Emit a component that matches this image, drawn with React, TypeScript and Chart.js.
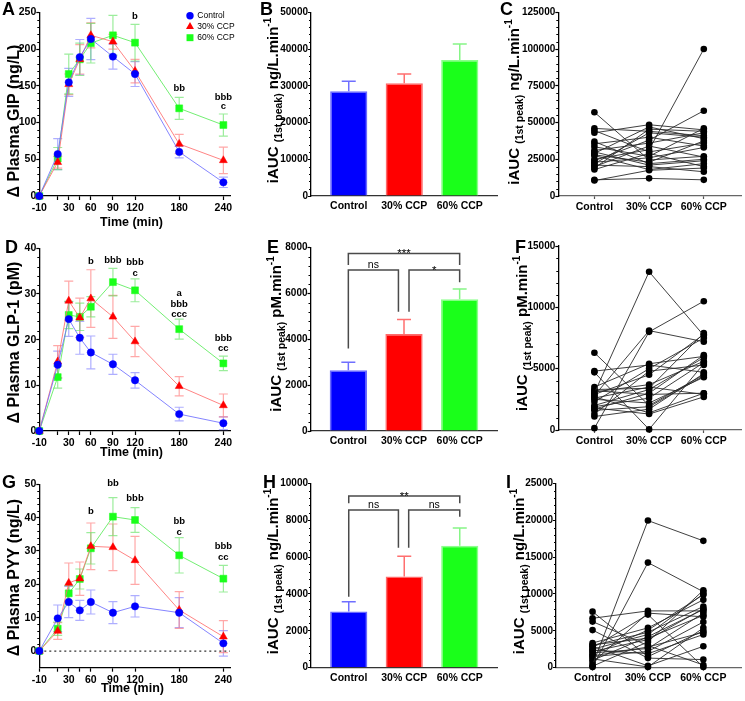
import React, { useEffect, useRef } from "react";
import { Chart, registerables } from "chart.js";

Chart.register(...registerables);

const FONT = "'Liberation Sans', Arial, sans-serif";
Chart.defaults.font.family = FONT;

// ---------------- shared categories / ticks ----------------
const timePoints = [-10, 15, 30, 45, 60, 90, 120, 180, 240];
const timeTickValues = [-10, 15, 30, 45, 60, 90, 120, 180, 240];
const timeTickLabels = ["-10", "", "30", "", "60", "90", "120", "180", "240"];
const groups = ["Control", "30% CCP", "60% CCP"];
const groupPositions = [0, 1, 2];

// ---------------- A: GIP time course ----------------
const gipControl = [0, 57, 154.7, 189, 213.7, 189.7, 166, 60, 18.6];
const gip30 = [0, 46, 152, 186, 218.7, 210, 170, 70.8, 48.5];
const gip60 = [0, 51, 166, 186, 208, 218.7, 208.7, 119.3, 96.6];
const gipControlSem = [0, 21, 19, 24, 28, 17, 17, 8, 7];
const gip30Sem = [0, 8, 14, 20, 17, 10, 16, 13, 18];
const gip60Sem = [0, 15, 27, 22, 27, 27, 25, 15, 15];
const gipYTicks = [0, 50, 100, 150, 200, 250];
const gipNotes = [
  { t: 120, v: 245, s: "b" },
  { t: 180, v: 146, s: "bb" },
  { t: 240, v: 134, s: "bbb" },
  { t: 240, v: 121.5, s: "c" },
];

// ---------------- B: GIP iAUC ----------------
const gipAuc = [28500, 30700, 37000];
const gipAucSem = [2700, 2500, 4400];
const gipAucYTicks = [0, 10000, 20000, 30000, 40000, 50000];

// ---------------- C: GIP individual iAUC ----------------
const gipIndControl = [57000, 46000, 44500, 43000, 37000, 35500, 33500, 31000, 30000, 29000, 27500, 25000, 24000, 23000, 22000, 21000, 20000, 19000, 18000, 11000, 10500, 28000];
const gipInd30 = [24500, 44000, 30000, 48500, 22000, 40000, 27000, 36000, 21000, 47000, 18000, 31500, 38000, 26000, 43000, 20000, 34000, 45500, 29000, 12000, 17500, 23000];
const gipInd60 = [27000, 41000, 36000, 45000, 25000, 34000, 46000, 43000, 24000, 39000, 22000, 100000, 58000, 33000, 40000, 16500, 26500, 44000, 20000, 11000, 19000, 37500];
const gipIndYTicks = [0, 25000, 50000, 75000, 100000, 125000];

// ---------------- D: GLP-1 time course ----------------
const glpControl = [0, 14.5, 24.5, 20.4, 17.2, 14.6, 11.1, 3.7, 1.7];
const glp30 = [0, 15.2, 28.5, 24.8, 29.0, 25.0, 19.6, 9.8, 5.6];
const glp60 = [0, 11.8, 25.4, 25.0, 27.2, 32.6, 30.8, 22.3, 14.8];
const glpControlSem = [0, 3.0, 3.8, 3.6, 3.6, 2.2, 1.7, 1.5, 1.4];
const glp30Sem = [0, 3.5, 4.3, 4.3, 6.3, 4.7, 3.3, 2.1, 2.5];
const glp60Sem = [0, 2.4, 3.0, 3.0, 2.2, 3.0, 2.5, 2.2, 1.6];
const glpYTicks = [0, 10, 20, 30, 40];
const glpNotes = [
  { t: 60, v: 37.2, s: "b" },
  { t: 90, v: 37.3, s: "bbb" },
  { t: 120, v: 36.9, s: "bbb" },
  { t: 120, v: 34.6, s: "c" },
  { t: 180, v: 30.1, s: "a" },
  { t: 180, v: 27.8, s: "bbb" },
  { t: 180, v: 25.5, s: "ccc" },
  { t: 240, v: 20.2, s: "bbb" },
  { t: 240, v: 18.0, s: "cc" },
];

// ---------------- E: GLP-1 iAUC ----------------
const glpAuc = [2650, 4230, 5750];
const glpAucSem = [350, 640, 450];
const glpAucYTicks = [0, 2000, 4000, 6000, 8000];
const glpBrackets = [
  { x1: 0, x2: 2, y: 7750, y1: 7240, y2: 7240, label: "***" },
  { x1: 0, x2: 0.9, y: 7025, y1: 3600, y2: 5200, label: "ns" },
  { x1: 1.09, x2: 2, y: 7025, y1: 5200, y2: 6490, label: "*" },
];

// ---------------- F: GLP-1 individual iAUC ----------------
const glpIndControl = [3000, 150, 2800, 6300, 4700, 4800, 3500, 3300, 3100, 2900, 2700, 2600, 2500, 2300, 2000, 1800, 1700, 1600, 1300, 1100, 3200, 1900];
const glpInd30 = [12900, 8000, 8100, 2000, 50, 5300, 5400, 3400, 3700, 4500, 1400, 3500, 2200, 5000, 3300, 1300, 3000, 1900, 4800, 1700, 2900, 2600];
const glpInd60 = [7700, 10500, 7200, 4500, 5400, 4700, 6000, 7900, 5600, 7800, 3000, 2900, 4300, 7500, 5900, 2700, 6100, 4400, 5300, 4600, 3000, 5500];
const glpIndYTicks = [0, 5000, 10000, 15000];

// ---------------- G: PYY time course ----------------
const pyyControl = [0, 9.8, 14.7, 12.2, 14.7, 11.5, 13.4, 11.5, 2.3];
const pyy30 = [0, 6.0, 20.4, 21.7, 31.4, 31.1, 27.2, 12.3, 4.3];
const pyy60 = [0, 6.7, 17.3, 21.6, 30.8, 40.3, 39.3, 28.7, 21.7];
const pyyControlSem = [0, 4, 4.7, 3, 3.6, 3.3, 3.2, 4.5, 3.8];
const pyy30Sem = [0, 2.5, 6, 5, 7, 7, 7.2, 5.5, 4.8];
const pyy60Sem = [0, 2, 2.3, 3, 4.7, 5.7, 3.7, 5.3, 4];
const pyyYTicks = [0, 10, 20, 30, 40, 50];
const pyyNotes = [
  { t: 60, v: 41.8, s: "b" },
  { t: 90, v: 50.3, s: "bb" },
  { t: 120, v: 45.8, s: "bbb" },
  { t: 180, v: 38.8, s: "bb" },
  { t: 180, v: 35.6, s: "c" },
  { t: 240, v: 31.4, s: "bbb" },
  { t: 240, v: 28.1, s: "cc" },
];

// ---------------- H: PYY iAUC ----------------
const pyyAuc = [3050, 4950, 6620];
const pyyAucSem = [530, 1100, 950];
const pyyAucYTicks = [0, 2000, 4000, 6000, 8000, 10000];
const pyyBrackets = [
  { x1: 0, x2: 2, y: 9313, y1: 8915, y2: 8915, label: "**" },
  { x1: 0, x2: 0.895, y: 8553, y1: 3850, y2: 6510, label: "ns" },
  { x1: 1.08, x2: 2, y: 8553, y1: 6510, y2: 8190, label: "ns" },
];

// ---------------- I: PYY individual iAUC ----------------
const pyyIndControl = [370, 100, 7600, 6700, 6250, 5100, 3350, 3000, 2700, 2500, 2200, 2000, 1800, 1500, 1000, 200, 2900, 2400, 1200, 700, 3100, 1600];
const pyyInd30 = [19950, 14250, 1500, 7700, 3000, 1300, 5400, 4800, 7200, 4500, 3800, 2600, 5100, 2200, 4200, 3500, 250, 1900, 100, 7400, 4000, 2800];
const pyyInd60 = [17200, 10300, 5000, 7700, 370, 1100, 9200, 8300, 100, 10000, 8000, 7400, 9900, 6200, 7900, 10500, 2900, 4500, 5400, 6900, 7100, 4800];
const pyyIndYTicks = [0, 5000, 10000, 15000, 20000, 25000];

// ---------------- styles ----------------
const pointColors = ["#0000ff", "#ff0000", "#1aff1a"];
const lineColors = ["rgba(110,110,255,0.85)", "rgba(255,110,110,0.85)", "rgba(90,235,90,0.85)"];
const errColors = ["rgba(120,120,255,0.6)", "rgba(255,110,110,0.6)", "rgba(90,225,90,0.6)"];
const pointShapes = ["circle", "triangle", "rect"];
const pointSizes = [3.7, 4.6, 4.9];
const barFill = ["#0000ff", "#ff0000", "#1aff1a"];
const barEdge = ["#6a6aff", "#ff6a6a", "#8cff8c"];
const barErr = ["#6f6fff", "#ff6f6f", "#86f586"];

// ---------------- layout ----------------
const COL = [{ cx: 0, cw: 250 }, { cx: 250, cw: 250 }, { cx: 500, cw: 245 }];
const ROW = [{ cy: 0, ch: 233 }, { cy: 233, ch: 235 }, { cy: 468, ch: 233 }];
function frame(c: number, r: number, L: number, R: number, T: number, B: number) {
  return { cx: COL[c].cx, cw: COL[c].cw, cy: ROW[r].cy, ch: ROW[r].ch, L, R, T, B };
}
const FR: any = {
  A: frame(0, 0, 39.3, 230, 12.3, 196),
  B: frame(1, 0, 311, 497.5, 12.3, 196),
  C: frame(2, 0, 558.3, 743, 12.3, 196),
  D: frame(0, 1, 39.3, 230, 248.3, 431),
  E: frame(1, 1, 310.5, 497.5, 247.7, 431),
  F: frame(2, 1, 558.3, 743, 246, 430),
  G: frame(0, 2, 39.3, 230, 484.3, 667.7),
  H: frame(1, 2, 311, 497.5, 483.3, 667.7),
  I: frame(2, 2, 556, 743, 483.3, 667.7),
};

type Part = { text: string; size: number; dy: number };
const plainTitle = (t: string): Part[] => [{ text: t, size: 16, dy: 5.8 }];
const aucTitle = (unit: string): Part[] => [
  { text: "iAUC ", size: 15, dy: 5.4 },
  { text: "(1st peak)", size: 10.5, dy: 9.2 },
  { text: " " + unit, size: 15, dy: 5.4 },
  { text: "-1", size: 10, dy: -1.6 },
];

// ---------------- drawing helpers ----------------
function drawShape(ctx: any, shape: string, x: number, y: number, r: number, color: string) {
  ctx.fillStyle = color;
  ctx.beginPath();
  if (shape === "circle") ctx.arc(x, y, r, 0, Math.PI * 2);
  else if (shape === "triangle") {
    let a = 0;
    ctx.moveTo(x + Math.sin(a) * r, y - Math.cos(a) * r);
    a += (2 * Math.PI) / 3;
    ctx.lineTo(x + Math.sin(a) * r, y - Math.cos(a) * r);
    a += (2 * Math.PI) / 3;
    ctx.lineTo(x + Math.sin(a) * r, y - Math.cos(a) * r);
    ctx.closePath();
  } else {
    const s = r * Math.SQRT1_2;
    ctx.rect(x - s, y - s, 2 * s, 2 * s);
  }
  ctx.fill();
}

function drawRotated(ctx: any, cx: number, cy: number, parts: Part[]) {
  ctx.save();
  ctx.translate(cx, cy);
  ctx.rotate(-Math.PI / 2);
  ctx.fillStyle = "#000";
  ctx.textBaseline = "alphabetic";
  ctx.textAlign = "left";
  let total = 0;
  const widths = parts.map((p) => {
    ctx.font = `bold ${p.size}px ${FONT}`;
    const w = ctx.measureText(p.text).width;
    total += w;
    return w;
  });
  let x = -total / 2;
  parts.forEach((p, i) => {
    ctx.font = `bold ${p.size}px ${FONT}`;
    ctx.fillText(p.text, x, p.dy);
    x += widths[i];
  });
  ctx.restore();
}

function decorPlugin(spec: any) {
  const f = spec.f;
  return {
    id: "decor",
    beforeDatasetsDraw(chart: any) {
      const ctx = chart.ctx;
      const xs = chart.scales.x;
      const ys = chart.scales.y;
      if (spec.zeroLine) {
        ctx.save();
        ctx.strokeStyle = "#333";
        ctx.lineWidth = 1.2;
        ctx.setLineDash([2, 3]);
        const y0 = ys.getPixelForValue(0);
        ctx.beginPath();
        ctx.moveTo(chart.chartArea.left, y0);
        ctx.lineTo(chart.chartArea.right, y0);
        ctx.stroke();
        ctx.restore();
      }
      if (spec.lineErr) {
        ctx.save();
        ctx.lineWidth = 1.2;
        spec.lineErr.values.forEach((vals: number[], di: number) => {
          ctx.strokeStyle = errColors[di];
          spec.lineErr.sems[di].forEach((e: number, i: number) => {
            if (!e) return;
            const x = xs.getPixelForValue(timePoints[i]);
            const y1 = ys.getPixelForValue(vals[i] + e);
            const y2 = ys.getPixelForValue(vals[i] - e);
            ctx.beginPath();
            ctx.moveTo(x, y1);
            ctx.lineTo(x, y2);
            ctx.moveTo(x - 4.5, y1);
            ctx.lineTo(x + 4.5, y1);
            ctx.moveTo(x - 4.5, y2);
            ctx.lineTo(x + 4.5, y2);
            ctx.stroke();
          });
        });
        ctx.restore();
      }
    },
    afterDatasetsDraw(chart: any) {
      const ctx = chart.ctx;
      const xs = chart.scales.x;
      const ys = chart.scales.y;
      if (spec.barErr) {
        ctx.save();
        ctx.lineWidth = 1.5;
        spec.barErr.values.forEach((v: number, i: number) => {
          const x = xs.getPixelForValue(groupPositions[i]);
          const y1 = ys.getPixelForValue(v);
          const y2 = ys.getPixelForValue(v + spec.barErr.sems[i]);
          ctx.strokeStyle = barErr[i];
          ctx.beginPath();
          ctx.moveTo(x, y1);
          ctx.lineTo(x, y2);
          ctx.moveTo(x - 7, y2);
          ctx.lineTo(x + 7, y2);
          ctx.stroke();
        });
        ctx.restore();
      }
    },
    afterDraw(chart: any) {
      const ctx = chart.ctx;
      const xs = chart.scales.x;
      const ys = chart.scales.y;
      if (spec.minor) {
        ctx.save();
        ctx.strokeStyle = "#000";
        ctx.lineWidth = 1;
        const m = spec.minor;
        for (let v = m.from; v <= m.to + 1e-9; v += m.step) {
          const r = v / m.major;
          if (Math.abs(r - Math.round(r)) < 1e-6) continue;
          const y = Math.round(ys.getPixelForValue(v)) + 0.5;
          ctx.beginPath();
          ctx.moveTo(ys.right - 2, y);
          ctx.lineTo(ys.right, y);
          ctx.stroke();
        }
        ctx.restore();
      }
      if (spec.yTitle) {
        drawRotated(ctx, spec.yTitle.x - f.cx, spec.yTitle.y - f.cy, spec.yTitle.parts);
      }
      if (spec.xTitle) {
        ctx.save();
        ctx.fillStyle = "#000";
        ctx.font = `bold 12.5px ${FONT}`;
        ctx.textAlign = "center";
        ctx.textBaseline = "middle";
        ctx.fillText(spec.xTitle.text, spec.xTitle.x - f.cx, spec.xTitle.y - f.cy);
        ctx.restore();
      }
      if (spec.notes) {
        ctx.save();
        ctx.fillStyle = "#000";
        ctx.font = `bold 9.5px ${FONT}`;
        ctx.textAlign = "center";
        ctx.textBaseline = "middle";
        spec.notes.forEach((n: any) => {
          ctx.fillText(n.s, xs.getPixelForValue(n.t), ys.getPixelForValue(n.v));
        });
        ctx.restore();
      }
      if (spec.legend) {
        ctx.save();
        const lg = spec.legend;
        groups.forEach((g, i) => {
          const y = lg.y + i * lg.dy - f.cy;
          drawShape(ctx, pointShapes[i], lg.x - f.cx, y, pointSizes[i], pointColors[i]);
          ctx.fillStyle = "#000";
          ctx.font = `8.5px ${FONT}`;
          ctx.textAlign = "left";
          ctx.textBaseline = "middle";
          ctx.fillText(g, lg.tx - f.cx, y);
        });
        ctx.restore();
      }
      if (spec.brackets) {
        ctx.save();
        ctx.strokeStyle = "#4a4a4a";
        ctx.lineWidth = 1.5;
        spec.brackets.forEach((b: any) => {
          const x1 = xs.getPixelForValue(b.x1);
          const x2 = xs.getPixelForValue(b.x2);
          const y = ys.getPixelForValue(b.y);
          ctx.beginPath();
          ctx.moveTo(x1, ys.getPixelForValue(b.y1));
          ctx.lineTo(x1, y);
          ctx.lineTo(x2, y);
          ctx.lineTo(x2, ys.getPixelForValue(b.y2));
          ctx.stroke();
          ctx.fillStyle = "#000";
          ctx.textAlign = "center";
          ctx.textBaseline = "alphabetic";
          const star = b.label.indexOf("*") >= 0;
          ctx.font = star ? `11.5px ${FONT}` : `10.5px ${FONT}`;
          ctx.fillText(b.label, (x1 + x2) / 2, star ? y + 4 : y - 2);
        });
        ctx.restore();
      }
    },
  };
}

// ---------------- axis builders ----------------
function xAxis(f: any, min: number, max: number, vals: number[], labels: string[], tl: number, pad: number, tickColor: string, borderColor: string) {
  const h = f.cy + f.ch - f.B;
  return {
    type: "linear",
    min,
    max,
    offset: false,
    afterBuildTicks: (s: any) => {
      s.ticks = vals.map((v) => ({ value: v }));
    },
    afterFit: (s: any) => {
      s.height = h;
      s.paddingLeft = 0;
      s.paddingRight = 0;
    },
    ticks: {
      autoSkip: false,
      maxRotation: 0,
      minRotation: 0,
      padding: pad,
      color: "#000",
      font: { size: 10.5, weight: "bold" },
      callback: (_v: any, i: number) => labels[i],
    },
    grid: { display: true, offset: false, drawOnChartArea: false, drawTicks: true, tickLength: tl, tickColor, tickWidth: 1.2 },
    border: { display: true, color: borderColor, width: 1.3 },
  };
}

function yAxis(f: any, min: number, max: number, vals: number[], size: number) {
  const w = f.L - f.cx;
  return {
    type: "linear",
    min,
    max,
    afterBuildTicks: (s: any) => {
      s.ticks = vals.map((v) => ({ value: v }));
    },
    afterFit: (s: any) => {
      s.width = w;
      s.paddingTop = 0;
      s.paddingBottom = 0;
    },
    ticks: {
      autoSkip: false,
      padding: 0,
      color: "#000",
      font: { size, weight: "bold" },
      callback: (v: any) => String(v),
    },
    grid: { display: true, drawOnChartArea: false, drawTicks: true, tickLength: 3, tickColor: "#000", tickWidth: 1.2 },
    border: { display: true, color: "#000", width: 1.3 },
  };
}

function baseOptions(f: any, scales: any) {
  return {
    responsive: false,
    animation: false,
    events: [],
    devicePixelRatio: 1,
    layout: { padding: { left: 0, top: f.T - f.cy, right: f.cx + f.cw - f.R, bottom: 0 } },
    plugins: { legend: { display: false }, tooltip: { enabled: false }, title: { display: false } },
    scales,
  };
}

function timeCourse(f: any, series: number[][], sems: number[][], yMin: number, yMax: number, yTicks: number[], minor: any, notes: any[], title: string, titlePos: number[], xTitlePos: number[], extra: any) {
  const datasets = series.map((vals, i) => ({
    data: vals.map((v, k) => ({ x: timePoints[k], y: v })),
    borderColor: lineColors[i],
    borderWidth: 1,
    pointStyle: pointShapes[i],
    pointRadius: pointSizes[i],
    pointBackgroundColor: pointColors[i],
    pointBorderColor: pointColors[i],
    pointBorderWidth: 0.5,
    showLine: true,
    tension: 0,
    clip: false,
  }));
  const spec = {
    f,
    minor,
    notes,
    lineErr: { values: series, sems },
    yTitle: { parts: plainTitle(title), x: titlePos[0], y: titlePos[1] },
    xTitle: { text: "Time (min)", x: xTitlePos[0], y: xTitlePos[1] },
    ...extra,
  };
  return {
    type: "line",
    data: { datasets },
    options: baseOptions(f, {
      x: xAxis(f, -10, 249, timeTickValues, timeTickLabels, 4, 2, "#000", "#000"),
      y: yAxis(f, yMin, yMax, yTicks, 10.5),
    }),
    plugins: [decorPlugin(spec)],
  };
}

function barPanel(f: any, vals: number[], sems: number[], yMax: number, yTicks: number[], minorStep: number, unit: string, titlePos: number[], brackets: any) {
  const spec = {
    f,
    minor: { from: 0, to: yMax, step: minorStep, major: yTicks[1] },
    barErr: { values: vals, sems },
    yTitle: { parts: aucTitle(unit), x: titlePos[0], y: titlePos[1] },
    brackets,
  };
  return {
    type: "bar",
    data: {
      datasets: [
        {
          data: vals.map((v, i) => ({ x: groupPositions[i], y: v })),
          backgroundColor: barFill,
          borderColor: barEdge,
          borderWidth: 1.5,
          categoryPercentage: 1,
          barPercentage: 0.67,
        },
      ],
    },
    options: baseOptions(f, {
      x: xAxis(f, -0.68, 2.68, groupPositions, groups, 2, 1.8, "rgba(0,0,0,0)", "#333"),
      y: yAxis(f, 0, yMax, yTicks, 10),
    }),
    plugins: [decorPlugin(spec)],
  };
}

function pairedPanel(f: any, c: number[], p30: number[], p60: number[], yMax: number, yTicks: number[], minorStep: number, unit: string, titlePos: number[]) {
  const datasets = c.map((v, i) => ({
    data: [
      { x: groupPositions[0], y: v },
      { x: groupPositions[1], y: p30[i] },
      { x: groupPositions[2], y: p60[i] },
    ],
    borderColor: "#2a2a2a",
    borderWidth: 0.9,
    pointRadius: 3.3,
    pointBackgroundColor: "#000",
    pointBorderColor: "#000",
    pointBorderWidth: 0,
    showLine: true,
    tension: 0,
    clip: false,
  }));
  const spec = {
    f,
    minor: { from: 0, to: yMax, step: minorStep, major: yTicks[1] },
    yTitle: { parts: aucTitle(unit), x: titlePos[0], y: titlePos[1] },
  };
  return {
    type: "line",
    data: { datasets },
    options: baseOptions(f, {
      x: xAxis(f, -0.66, 2.68, groupPositions, groups, 3, 1.5, "#555", "#666"),
      y: yAxis(f, 0, yMax, yTicks, 10),
    }),
    plugins: [decorPlugin(spec)],
  };
}

// ---------------- panels ----------------
const panels: any[] = [
  {
    key: "A",
    f: FR.A,
    build: () =>
      timeCourse(FR.A, [gipControl, gip30, gip60], [gipControlSem, gip30Sem, gip60Sem], 0, 250, gipYTicks,
        { from: 0, to: 250, step: 10, major: 50 }, gipNotes, "\u0394 Plasma GIP (ng/L)", [13.5, 121], [131.5, 223],
        { legend: { x: 190, tx: 197.3, y: 15.7, dy: 11 } }),
  },
  { key: "B", f: FR.B, build: () => barPanel(FR.B, gipAuc, gipAucSem, 50000, gipAucYTicks, 2000, "ng/L.min", [272.5, 100.5], null) },
  { key: "C", f: FR.C, build: () => pairedPanel(FR.C, gipIndControl, gipInd30, gipInd60, 125000, gipIndYTicks, 5000, "ng/L.min", [513.5, 102]) },
  {
    key: "D",
    f: FR.D,
    build: () =>
      timeCourse(FR.D, [glpControl, glp30, glp60], [glpControlSem, glp30Sem, glp60Sem], 0, 40, glpYTicks,
        { from: 0, to: 40, step: 2, major: 10 }, glpNotes, "\u0394 Plasma GLP-1 (pM)", [13.5, 342.5], [131.5, 452.5], {}),
  },
  { key: "E", f: FR.E, build: () => barPanel(FR.E, glpAuc, glpAucSem, 8000, glpAucYTicks, 400, "pM.min", [275.5, 334], glpBrackets) },
  { key: "F", f: FR.F, build: () => pairedPanel(FR.F, glpIndControl, glpInd30, glpInd60, 15000, glpIndYTicks, 1000, "pM.min", [521.5, 333.3]) },
  {
    key: "G",
    f: FR.G,
    build: () =>
      timeCourse(FR.G, [pyyControl, pyy30, pyy60], [pyyControlSem, pyy30Sem, pyy60Sem], -5, 50, pyyYTicks,
        { from: 0, to: 50, step: 2, major: 10 }, pyyNotes, "\u0394 Plasma PYY (ng/L)", [13.5, 577.5], [132.5, 688.5], { zeroLine: true }),
  },
  { key: "H", f: FR.H, build: () => barPanel(FR.H, pyyAuc, pyyAucSem, 10000, pyyAucYTicks, 400, "ng/L.min", [273, 571.5], pyyBrackets) },
  { key: "I", f: FR.I, build: () => pairedPanel(FR.I, pyyIndControl, pyyInd30, pyyInd60, 25000, pyyIndYTicks, 1000, "ng/L.min", [519, 571.5]) },
];

const panelLetters = [
  { s: "A", x: 2, y: 2 },
  { s: "B", x: 260, y: 2 },
  { s: "C", x: 500, y: 2 },
  { s: "D", x: 5, y: 240 },
  { s: "E", x: 267, y: 240 },
  { s: "F", x: 515, y: 240 },
  { s: "G", x: 2, y: 475 },
  { s: "H", x: 263, y: 475 },
  { s: "I", x: 506, y: 475 },
];

function ChartPanel({ panel }: { panel: any }) {
  const ref = useRef<HTMLCanvasElement>(null);
  useEffect(() => {
    const chart = new Chart(ref.current as any, panel.build());
    return () => chart.destroy();
  }, []);
  const f = panel.f;
  return (
    <canvas
      ref={ref}
      width={f.cw}
      height={f.ch}
      style={{ position: "absolute", left: f.cx, top: f.cy, width: f.cw, height: f.ch }}
    />
  );
}

export default function App() {
  return (
    <div style={{ position: "absolute", left: 0, top: 0, width: 745, height: 701, background: "#fff", overflow: "hidden" }}>
      {panels.map((p) => (
        <ChartPanel key={p.key} panel={p} />
      ))}
      {panelLetters.map((l) => (
        <div
          key={l.s}
          style={{
            position: "absolute",
            left: l.x,
            top: l.y - 2.3,
            fontFamily: FONT,
            fontWeight: "bold",
            fontSize: 18,
            lineHeight: "18px",
            color: "#000",
          }}
        >
          {l.s}
        </div>
      ))}
    </div>
  );
}
